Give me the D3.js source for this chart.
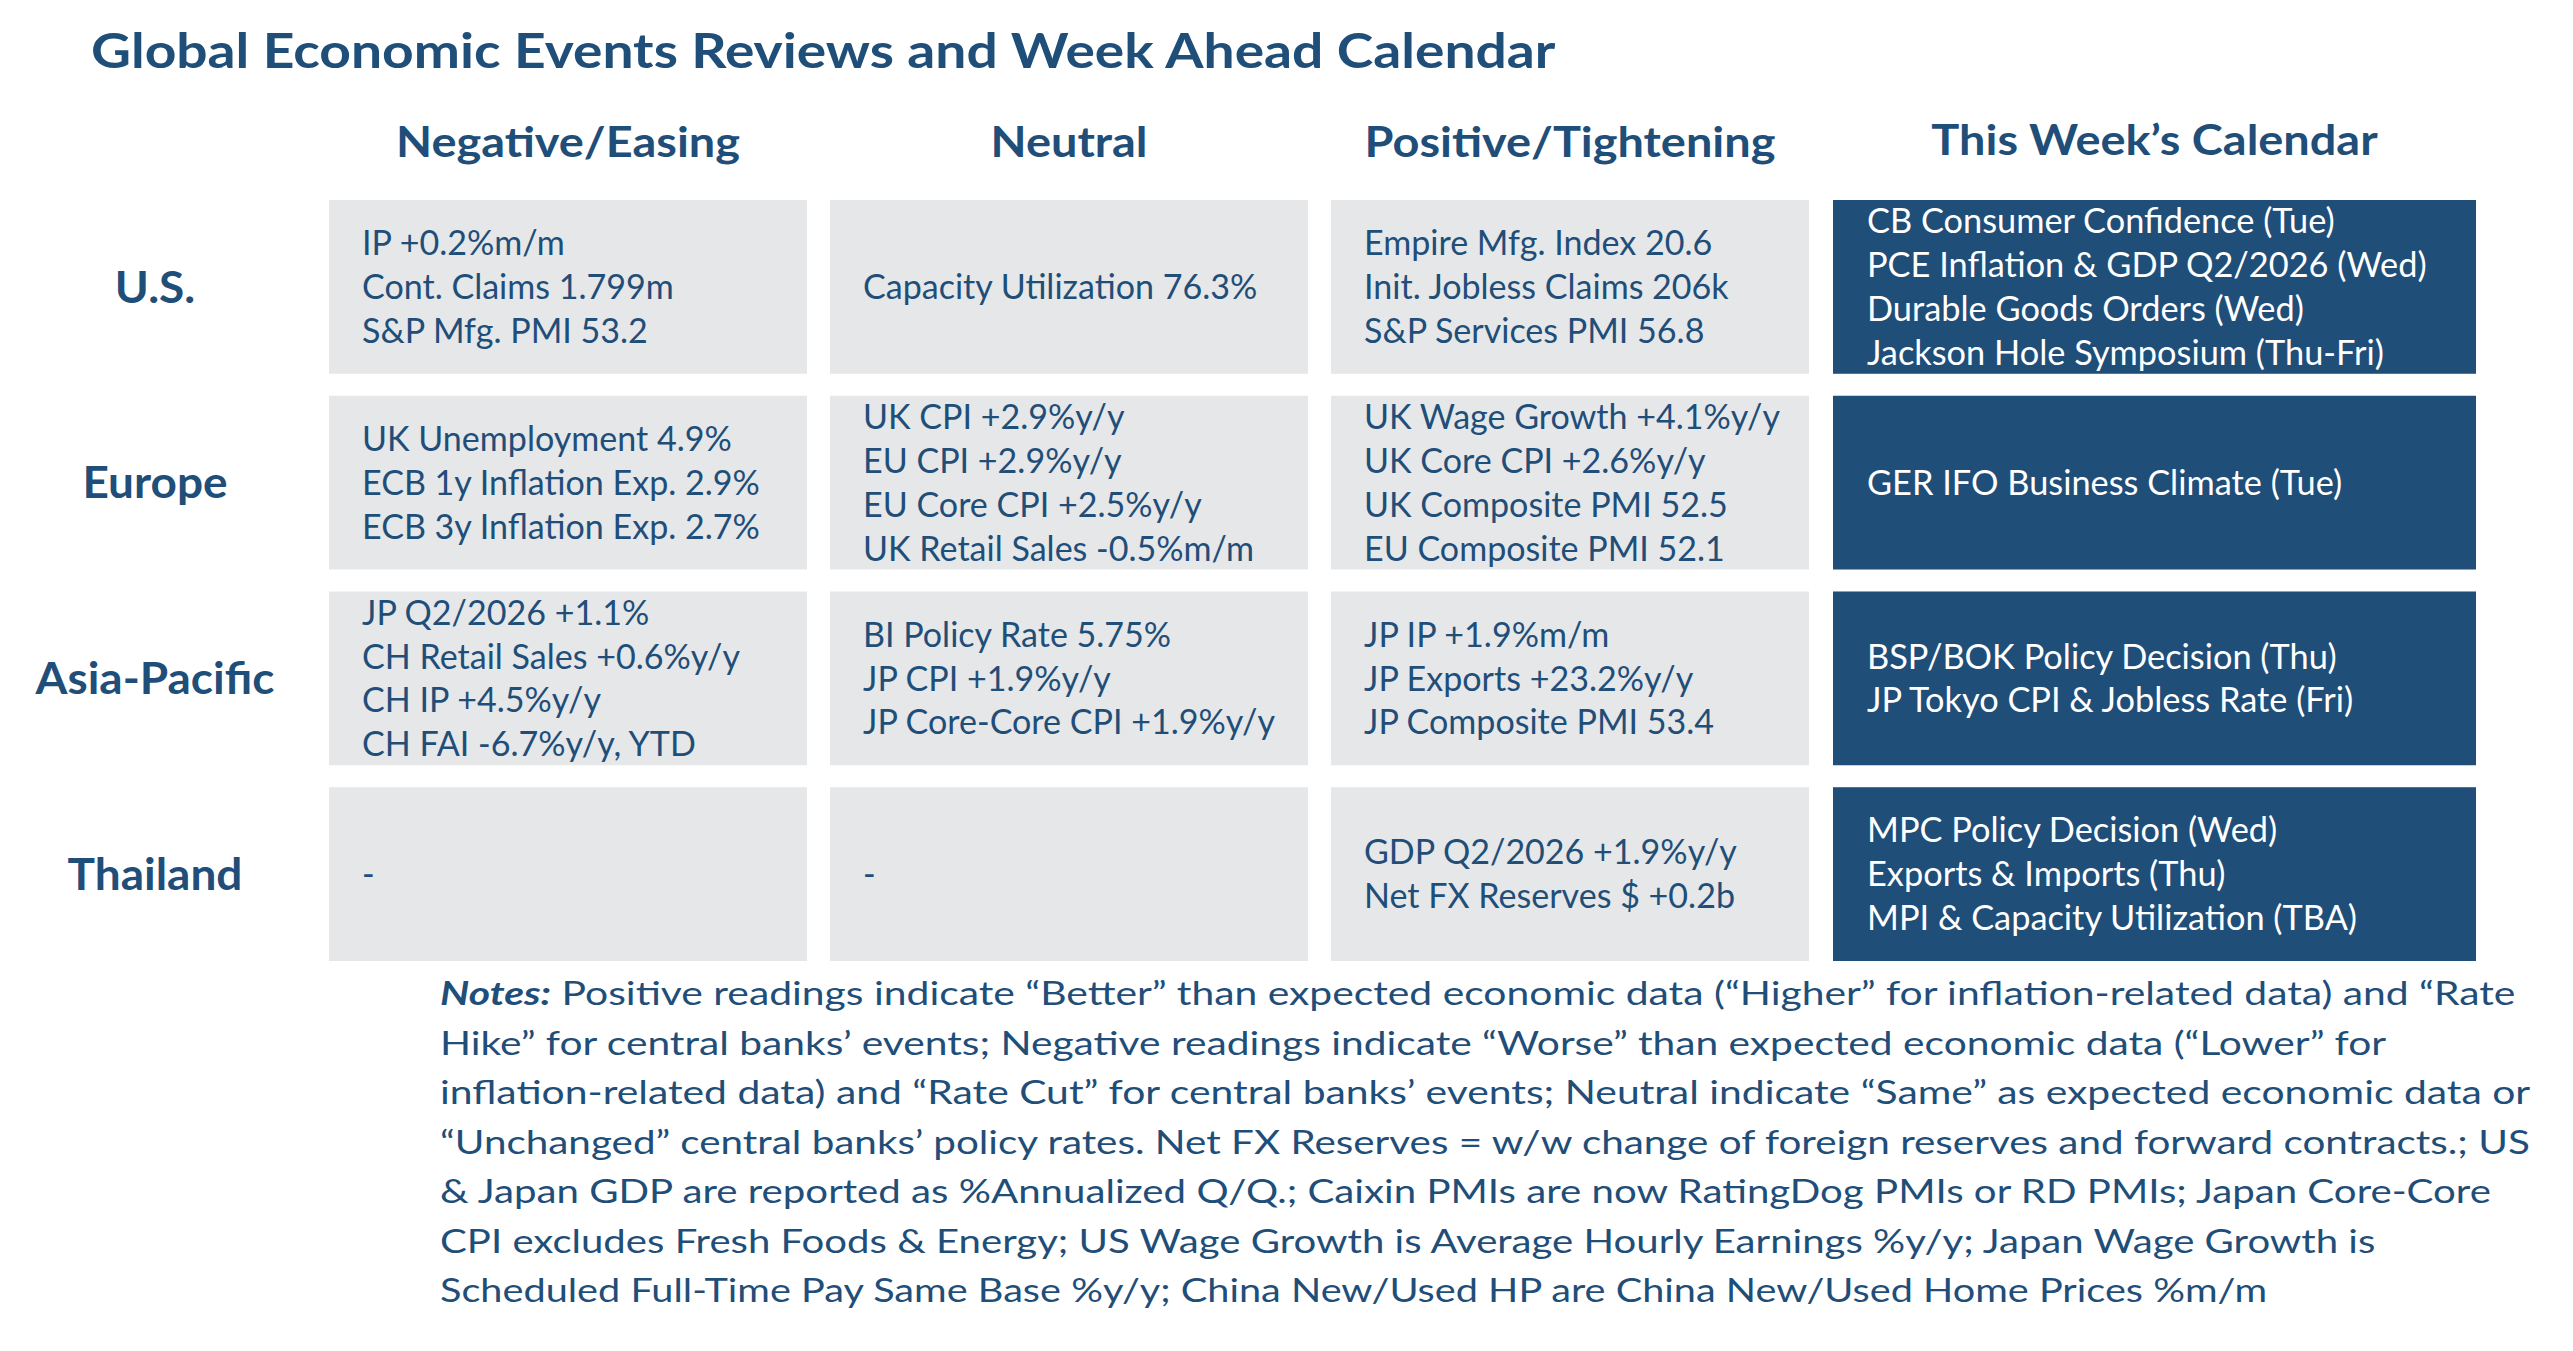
<!DOCTYPE html>
<html>
<head>
<meta charset="utf-8">
<script src="https://cdn.jsdelivr.net/npm/d3@7/dist/d3.min.js"></script>
<style>
  html, body { margin: 0; padding: 0; background: #ffffff; }
  svg { display: block; }
</style>
</head>
<body>
<div id="chart"></div>
<script>
// ---------------- DATA ----------------
const title = "Global Economic Events Reviews and Week Ahead Calendar";
const regions = ["U.S.", "Europe", "Asia-Pacific", "Thailand"];
const columns = ["Negative/Easing", "Neutral", "Positive/Tightening"];
const calendarHeader = "This Week\u2019s Calendar";

const negativeEasing = [
  ["IP +0.2%m/m", "Cont. Claims 1.799m", "S&P Mfg. PMI 53.2"],
  ["UK Unemployment 4.9%", "ECB 1y Inflation Exp. 2.9%", "ECB 3y Inflation Exp. 2.7%"],
  ["JP Q2/2026 +1.1%", "CH Retail Sales +0.6%y/y", "CH IP +4.5%y/y", "CH FAI -6.7%y/y, YTD"],
  ["-"]
];
const neutral = [
  ["Capacity Utilization 76.3%"],
  ["UK CPI +2.9%y/y", "EU CPI +2.9%y/y", "EU Core CPI +2.5%y/y", "UK Retail Sales -0.5%m/m"],
  ["BI Policy Rate 5.75%", "JP CPI +1.9%y/y", "JP Core-Core CPI +1.9%y/y"],
  ["-"]
];
const positiveTightening = [
  ["Empire Mfg. Index 20.6", "Init. Jobless Claims 206k", "S&P Services PMI 56.8"],
  ["UK Wage Growth +4.1%y/y", "UK Core CPI +2.6%y/y", "UK Composite PMI 52.5", "EU Composite PMI 52.1"],
  ["JP IP +1.9%m/m", "JP Exports +23.2%y/y", "JP Composite PMI 53.4"],
  ["GDP Q2/2026 +1.9%y/y", "Net FX Reserves $ +0.2b"]
];
const calendar = [
  ["CB Consumer Confidence (Tue)", "PCE Inflation & GDP Q2/2026 (Wed)", "Durable Goods Orders (Wed)", "Jackson Hole Symposium (Thu-Fri)"],
  ["GER IFO Business Climate (Tue)"],
  ["BSP/BOK Policy Decision (Thu)", "JP Tokyo CPI & Jobless Rate (Fri)"],
  ["MPC Policy Decision (Wed)", "Exports & Imports (Thu)", "MPI & Capacity Utilization (TBA)"]
];
const notesLabel = "Notes:";
const notesLines = [
  " Positive readings indicate \u201CBetter\u201D than expected economic data (\u201CHigher\u201D for inflation-related data) and \u201CRate",
  "Hike\u201D for central banks\u2019 events; Negative readings indicate \u201CWorse\u201D than expected economic data (\u201CLower\u201D for",
  "inflation-related data) and \u201CRate Cut\u201D for central banks\u2019 events; Neutral indicate \u201CSame\u201D as expected economic data or",
  "\u201CUnchanged\u201D central banks\u2019 policy rates. Net FX Reserves = w/w change of foreign reserves and forward contracts.; US",
  "& Japan GDP are reported as %Annualized Q/Q.; Caixin PMIs are now RatingDog PMIs or RD PMIs; Japan Core-Core",
  "CPI excludes Fresh Foods & Energy; US Wage Growth is Average Hourly Earnings %y/y; Japan Wage Growth is",
  "Scheduled Full-Time Pay Same Base %y/y; China New/Used HP are China New/Used Home Prices %m/m"
];

// ---------------- LAYOUT ----------------
const W = 2573, H = 1351;
const NAVY = "#1f4e79";
const GREY = "#e6e7e9";
const FONT = "Lato, 'Open Sans', sans-serif";
const CAP = 0.7165; // cap-height ratio of Lato

// rendered line widths of the notes paragraph in the reference (layout only)
const notesLineWidths = [2076, 1947, 2091, 2091, 2052, 1936, 1828];

const svg = d3.select("#chart").append("svg")
  .attr("width", W).attr("height", H)
  .attr("viewBox", `0 0 ${W} ${H}`)
  .style("font-family", FONT);

function measure(str, size, weight, style) {
  const t = svg.append("text")
    .attr("font-size", size).attr("font-weight", weight || "normal")
    .attr("font-style", style || "normal").text(str);
  const w = t.node().getComputedTextLength();
  t.remove();
  return w;
}
const fs = { title: 48, header: 42, label: 44, cell: 34, notes: 32 };
const sx = {
  title: 1465 / measure(title, fs.title, "bold"),
  header: 344 / measure("Negative/Easing", fs.header, "bold"),
  label: 239 / measure("Asia-Pacific", fs.label, "bold"),
  cell: 398 / measure("ECB 1y Inflation Exp. 2.9%", fs.cell),
  cal: 560 / measure("PCE Inflation & GDP Q2/2026 (Wed)", fs.cell)
};

const y = d3.scaleBand().domain(regions).range([200, 961]).paddingInner(22 / 196).paddingOuter(0);
const x = d3.scaleBand().domain(columns).range([329, 1809]).paddingInner(23 / 501).paddingOuter(0);
const calX0 = 1833, calX1 = 2476;
const lineGap = 43.8;
const padX = 33;

// Title
svg.append("text")
  .attr("transform", `translate(91,68) scale(${sx.title},1)`)
  .attr("font-size", fs.title).attr("font-weight", "bold").attr("fill", NAVY)
  .text(title);

// Column headers
svg.selectAll("text.colhead").data(columns).join("text")
  .attr("class", "colhead")
  .attr("transform", d => `translate(${x(d) + x.bandwidth() / 2},157) scale(${sx.header},1)`)
  .attr("text-anchor", "middle")
  .attr("font-size", fs.header).attr("font-weight", "bold").attr("fill", NAVY)
  .text(d => d);
svg.append("text")
  .attr("transform", `translate(${(calX0 + calX1) / 2},155) scale(${sx.header},1)`)
  .attr("text-anchor", "middle")
  .attr("font-size", fs.header).attr("font-weight", "bold").attr("fill", NAVY)
  .text(calendarHeader);

// Row labels
svg.selectAll("text.rowlab").data(regions).join("text")
  .attr("class", "rowlab")
  .attr("transform", d => `translate(155,${y(d) + y.bandwidth() / 2 + fs.label * CAP / 2}) scale(${sx.label},1)`)
  .attr("text-anchor", "middle")
  .attr("font-size", fs.label).attr("font-weight", "bold").attr("fill", NAVY)
  .text(d => d);

// Cells
const colData = [negativeEasing, neutral, positiveTightening];
function drawLines(g, lines, x0, cy, color, scaleX) {
  const n = lines.length;
  g.selectAll("text").data(lines).join("text")
    .attr("transform", (d, i) => `translate(${x0},${cy + (i - (n - 1) / 2) * lineGap + fs.cell * CAP / 2}) scale(${scaleX},1)`)
    .attr("font-size", fs.cell).attr("fill", color)
    .text(d => d);
}

columns.forEach((c, ci) => {
  regions.forEach((r, ri) => {
    const g = svg.append("g");
    g.append("rect")
      .attr("x", x(c)).attr("y", y(r))
      .attr("width", x.bandwidth()).attr("height", y.bandwidth())
      .attr("fill", GREY);
    drawLines(g.append("g"), colData[ci][ri], x(c) + padX, y(r) + y.bandwidth() / 2, NAVY, sx.cell);
  });
});

// Calendar column
regions.forEach((r, ri) => {
  const g = svg.append("g");
  g.append("rect")
    .attr("x", calX0).attr("y", y(r))
    .attr("width", calX1 - calX0).attr("height", y.bandwidth())
    .attr("fill", NAVY);
  drawLines(g.append("g"), calendar[ri], calX0 + padX + 1, y(r) + y.bandwidth() / 2, "#ffffff", sx.cal);
});

// Notes
const notes = svg.append("g");
notesLines.forEach((line, i) => {
  const t = notes.append("text")
    .attr("font-size", fs.notes).attr("fill", NAVY)
    .attr("xml:space", "preserve");
  if (i === 0) {
    t.append("tspan").attr("font-weight", "bold").attr("font-style", "italic").text(notesLabel);
  }
  t.append("tspan").text(line);
  const w = t.node().getComputedTextLength();
  const s = notesLineWidths[i] / w;
  t.attr("transform", `translate(440,${1005 + i * 49.5}) scale(${s},1)`);
});
</script>
</body>
</html>
